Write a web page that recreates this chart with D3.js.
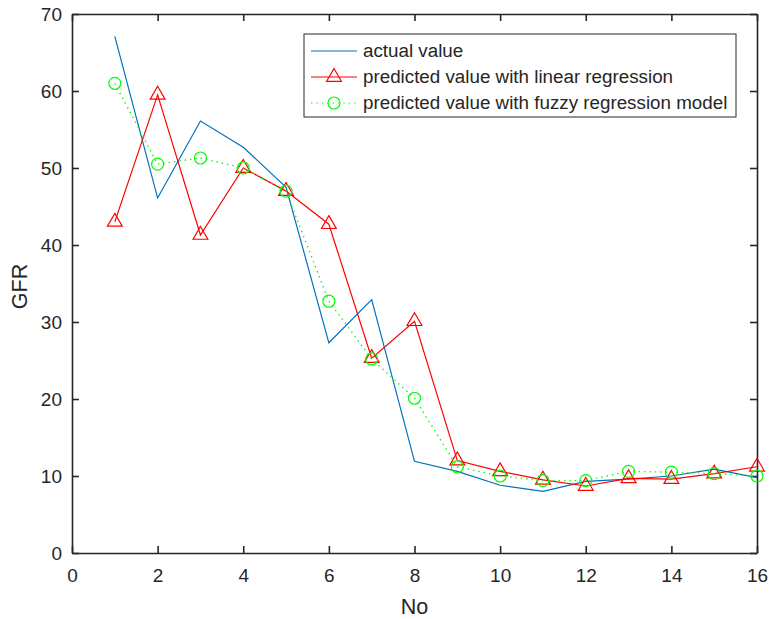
<!DOCTYPE html>
<html>
<head>
<meta charset="utf-8">
<script src="https://cdn.jsdelivr.net/npm/d3@7"></script>
<style>
  body { margin: 0; background: #fff; }
  text { font-family: "Liberation Sans", Arial, sans-serif; fill: #262626; }
</style>
</head>
<body>
<div class="plot"></div>
<script>
const xs = [1, 2, 3, 4, 5, 6, 7, 8, 9, 10, 11, 12, 13, 14, 15, 16];
const actual = [67.1, 46.1, 56.1, 52.7, 47.5, 27.3, 32.9, 11.9, 10.6, 8.8, 8.0, 9.3, 9.6, 10.0, 10.9, 9.8];
const linear = [43.0, 59.5, 41.3, 50.0, 47.0, 42.7, 25.3, 30.1, 12.0, 10.6, 9.5, 8.7, 9.7, 9.6, 10.3, 11.2];
const fuzzy = [61.0, 50.5, 51.3, 50.0, 47.0, 32.7, 25.2, 20.1, 11.2, 10.0, 9.4, 9.4, 10.6, 10.5, 10.3, 10.0];
const xTicks = [0, 2, 4, 6, 8, 10, 12, 14, 16];
const yTicks = [0, 10, 20, 30, 40, 50, 60, 70];
const legendLabels = ['actual value', 'predicted value with linear regression', 'predicted value with fuzzy regression model'];

const W = 769, H = 619;
const pLeft = 72, pTop = 14, pRight = 757, pBottom = 553;
const blue = '#0072BD', red = '#FF0000', green = '#00FF00', axisColor = '#262626';

const svg = d3.select('.plot')
    .append('svg')
    .attr('width', W)
    .attr('height', H);

const xScale = d3.scaleLinear().domain([0, 16]).range([pLeft, pRight]);
const yScale = d3.scaleLinear().domain([0, 70]).range([pBottom, pTop]);

// axes, ticks pointing inwards, mirrored on top and right
const tick = 7;
svg.append('g')
    .attr('transform', `translate(0, ${pBottom})`)
    .call(d3.axisBottom(xScale).tickValues(xTicks).tickSizeInner(-tick).tickSizeOuter(0).tickPadding(16))
    .call(g => g.selectAll('text').attr('font-size', '19px'));
svg.append('g')
    .attr('transform', `translate(0, ${pTop})`)
    .call(d3.axisTop(xScale).tickValues(xTicks).tickSizeInner(-tick).tickSizeOuter(0).tickFormat(''));
svg.append('g')
    .attr('transform', `translate(${pLeft}, 0)`)
    .call(d3.axisLeft(yScale).tickValues(yTicks).tickSizeInner(-tick).tickSizeOuter(0).tickPadding(10))
    .call(g => g.selectAll('text').attr('font-size', '19px'));
svg.append('g')
    .attr('transform', `translate(${pRight}, 0)`)
    .call(d3.axisRight(yScale).tickValues(yTicks).tickSizeInner(-tick).tickSizeOuter(0).tickFormat(''));

svg.selectAll('.domain, .tick line')
    .attr('stroke', axisColor)
    .attr('stroke-width', 1.6);
svg.selectAll('.tick text').attr('fill', axisColor).attr('font-family', '"Liberation Sans", Arial, sans-serif');

svg.append('text')
    .text('No')
    .attr('x', (pLeft + pRight) / 2)
    .attr('y', 614)
    .attr('text-anchor', 'middle')
    .attr('font-size', '21.5px');

svg.append('text')
    .text('GFR')
    .attr('transform', `translate(27, ${(pTop + pBottom) / 2 + 3}) rotate(-90)`)
    .attr('text-anchor', 'middle')
    .attr('font-size', '21.5px');

const line = d3.line()
    .x((d, i) => xScale(xs[i]))
    .y(d => yScale(d));

const tri = d3.symbol().type(d3.symbolTriangle).size(95);

// actual
svg.append('path')
    .attr('d', line(actual))
    .attr('fill', 'none')
    .attr('stroke', blue)
    .attr('stroke-width', 1.2);

// linear regression
svg.append('path')
    .attr('d', line(linear))
    .attr('fill', 'none')
    .attr('stroke', red)
    .attr('stroke-width', 1.2);
svg.selectAll('.tri')
    .data(linear)
    .enter()
    .append('path')
    .attr('class', 'tri')
    .attr('d', tri)
    .attr('transform', (d, i) => `translate(${xScale(xs[i])}, ${yScale(d)})`)
    .attr('fill', 'none')
    .attr('stroke', red)
    .attr('stroke-width', 1.2);

// fuzzy regression
svg.append('path')
    .attr('d', line(fuzzy))
    .attr('fill', 'none')
    .attr('stroke', green)
    .attr('stroke-width', 1.4)
    .attr('stroke-dasharray', '1.4 4');
svg.selectAll('.circ')
    .data(fuzzy)
    .enter()
    .append('circle')
    .attr('class', 'circ')
    .attr('cx', (d, i) => xScale(xs[i]))
    .attr('cy', d => yScale(d))
    .attr('r', 6)
    .attr('fill', 'none')
    .attr('stroke', green)
    .attr('stroke-width', 1.2);

// Legend
const legend = svg.append('g').attr('transform', 'translate(304, 34)');
legend.append('rect')
    .attr('width', 432)
    .attr('height', 83)
    .attr('fill', '#fff')
    .attr('stroke', axisColor)
    .attr('stroke-width', 1);

const rows = [
    { color: blue, dash: null, marker: null },
    { color: red, dash: null, marker: 'tri' },
    { color: green, dash: '1.4 4', marker: 'circ' }
];
rows.forEach((r, i) => {
    const y = 17 + i * 26;
    const g = legend.append('g').attr('transform', `translate(0, ${y})`);
    g.append('line')
        .attr('x1', 7).attr('x2', 53)
        .attr('stroke', r.color)
        .attr('stroke-width', 1.2)
        .attr('stroke-dasharray', r.dash);
    if (r.marker === 'tri') {
        g.append('path').attr('d', tri).attr('transform', 'translate(30, 0)')
            .attr('fill', 'none').attr('stroke', r.color).attr('stroke-width', 1.2);
    } else if (r.marker === 'circ') {
        g.append('circle').attr('cx', 30).attr('r', 6)
            .attr('fill', 'none').attr('stroke', r.color).attr('stroke-width', 1.2);
    }
    g.append('text')
        .text(legendLabels[i])
        .attr('x', 59)
        .attr('y', 6)
        .attr('font-size', '18.8px')
        .attr('fill', '#000');
});
</script>
</body>
</html>
